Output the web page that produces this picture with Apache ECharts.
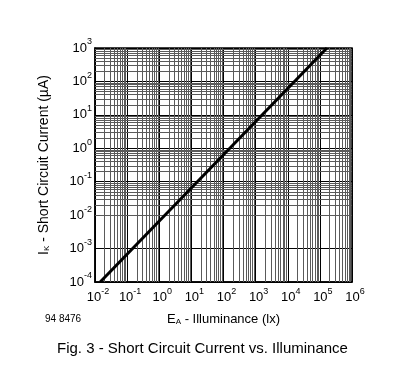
<!DOCTYPE html>
<html>
<head>
<meta charset="utf-8">
<script src="https://cdn.jsdelivr.net/npm/echarts@6/dist/echarts.min.js"></script>
<style>
html,body{margin:0;padding:0;background:#fff;}
#c{width:412px;height:389px;}
</style>
</head>
<body>
<div id="c"></div>
<script>
// Axis ranges (decades)
const xDecades = [-2, -1, 0, 1, 2, 3, 4, 5, 6];
const yDecades = [-4, -3, -2, -1, 0, 1, 2, 3];
const minorMultipliers = [2, 3, 4, 5, 6, 7, 8, 9];
// Curve: illuminance (lx) vs short circuit current (uA)
const illuminance = [0.0145, 166000];
const current = [0.0001, 1000];

const FONT = 'Liberation Sans';

const xMinor = [];
xDecades.slice(0, -1).forEach(d => minorMultipliers.forEach(m => xMinor.push({xAxis: m * Math.pow(10, d)})));
const yMinor = [];
yDecades.slice(0, -1).forEach(d => minorMultipliers.forEach(m => yMinor.push({yAxis: m * Math.pow(10, d)})));

function expOf(v) { return Math.round(Math.log10(v)); }

const chart = echarts.init(document.getElementById('c'), null, {renderer: 'canvas'});
chart.setOption({
  animation: false,
  backgroundColor: '#fff',
  grid: {left: 95, right: 60, top: 48, bottom: 107, show: true, borderColor: '#000', borderWidth: 1.5, backgroundColor: 'transparent'},
  xAxis: {
    type: 'log', logBase: 10, min: 0.01, max: 1e6,
    axisLine: {show: true, lineStyle: {color: '#000', width: 1.5}},
    axisTick: {show: false},
    splitLine: {show: true, lineStyle: {color: '#000', width: 1}},
    axisLabel: {
      margin: 5,
      formatter: v => { const e = expOf(v); return '{p|}{b|10}{s|' + e + '}'; },
      rich: {
        p: {width: 6},
        b: {fontSize: 13, fontFamily: FONT, color: '#000'},
        s: {fontSize: 9, fontFamily: FONT, color: '#000', padding: [0, 0, 12, 0]}
      }
    },
    name: '{b|E}{sub|A}{b| - Illuminance (lx)}',
    nameLocation: 'middle', nameGap: 30,
    nameTextStyle: {
      rich: {
        b: {fontSize: 13, fontFamily: FONT, color: '#000'},
        sub: {fontSize: 8, fontFamily: FONT, color: '#000', padding: [6, 0, 0, 0]}
      }
    }
  },
  yAxis: {
    type: 'log', logBase: 10, min: 1e-4, max: 1e3,
    axisLine: {show: true, lineStyle: {color: '#000', width: 1.5}},
    axisTick: {show: false},
    splitLine: {show: true, lineStyle: {color: '#000', width: 1}},
    axisLabel: {
      margin: 3,
      formatter: v => { const e = expOf(v); return '{b|10}{s|' + e + '}'; },
      rich: {
        b: {fontSize: 13, fontFamily: FONT, color: '#000'},
        s: {fontSize: 9, fontFamily: FONT, color: '#000', padding: [0, 0, 12, 0]}
      }
    },
    name: '{b|I}{sub|K}{b| - Short Circuit Current (µA)}',
    nameLocation: 'middle', nameGap: 44, nameRotate: 90,
    nameTextStyle: {
      rich: {
        b: {fontSize: 14, fontFamily: FONT, color: '#000'},
        sub: {fontSize: 8, fontFamily: FONT, color: '#000', padding: [6, 0, 0, 0]}
      }
    }
  },
  graphic: [
    {type: 'text', left: 45, top: 314, style: {text: '94 8476', fontSize: 10, fontFamily: FONT, fill: '#000'}},
    {type: 'text', left: 57, top: 341, style: {text: 'Fig. 3 - Short Circuit Current vs. Illuminance', fontSize: 15, fontFamily: FONT, fill: '#000'}}
  ],
  series: [
    {
      name: 'minor grid', type: 'line', data: [], z: 1, silent: true,
      markLine: {
        silent: true, symbol: 'none', animation: false,
        label: {show: false},
        lineStyle: {color: '#5a5a5a', width: 1, type: 'solid'},
        data: xMinor.concat(yMinor)
      }
    },
    {
      name: 'Ik', type: 'line', z: 5,
      data: illuminance.map((x, i) => [x, current[i]]),
      symbol: 'none',
      lineStyle: {color: '#000', width: 3}
    }
  ]
});
</script>
</body>
</html>
